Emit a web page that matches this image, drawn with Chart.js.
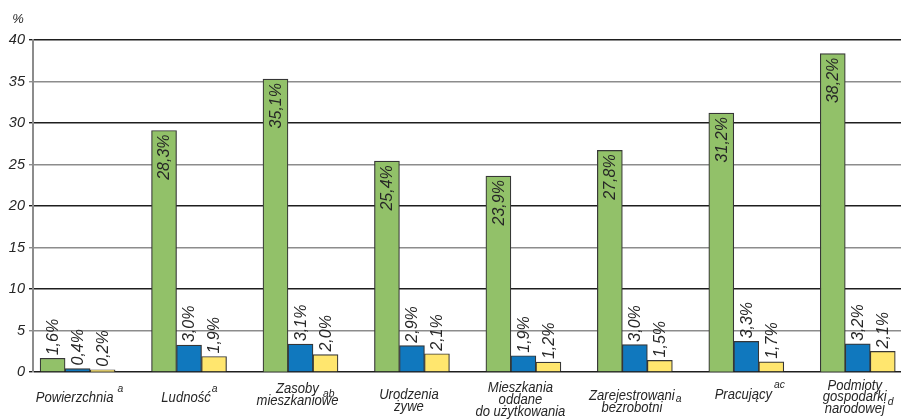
<!DOCTYPE html>
<html>
<head>
<meta charset="utf-8">
<script src="https://cdn.jsdelivr.net/npm/chart.js@4"></script>
<style>
  html, body { margin: 0; padding: 0; background: #ffffff; overflow: hidden; }
  canvas { display: block; }
</style>
</head>
<body>
<canvas id="c" width="901" height="419"></canvas>
<script>
// ---- data ----
const categories = [
  ["Powierzchnia"],
  ["Ludność"],
  ["Zasoby", "mieszkaniowe"],
  ["Urodzenia", "żywe"],
  ["Mieszkania", "oddane", "do użytkowania"],
  ["Zarejestrowani", "bezrobotni"],
  ["Pracujący"],
  ["Podmioty", "gospodarki", "narodowej"]
];
const categoryNotes = ["a", "a", "ab", "", "", "a", "ac", "d"];

const greenValues  = [1.65, 29.1, 35.3, 25.4, 23.6, 26.7, 31.2, 38.35];
const blueValues   = [0.42, 3.24, 3.36, 3.17, 1.96, 3.29, 3.69, 3.4];
const yellowValues = [0.27, 1.87, 2.1, 2.2, 1.2, 1.4, 1.23, 2.48];

const greenLabels  = ["1,6%", "28,3%", "35,1%", "25,4%", "23,9%", "27,8%", "31,2%", "38,2%"];
const blueLabels   = ["0,4%", "3,0%", "3,1%", "2,9%", "1,9%", "3,0%", "3,3%", "3,2%"];
const yellowLabels = ["0,2%", "1,9%", "2,0%", "2,1%", "1,2%", "1,5%", "1,7%", "2,1%"];

const yMin = 0, yMax = 40, yStep = 5;
const yUnit = "%";

// ---- styles ----
const FONT = "'Liberation Sans', Arial, Helvetica, sans-serif";
const TEXT = "#262626";
// baseline offsets (below chart bottom) of each label line, and note placement
const xLabelLayout = {
  baselines: [[30], [30], [20.5, 32.5], [26.5, 38.5], [19.5, 31.5, 43.5], [28, 39.5], [26.5], [18, 29, 40.5]],
  notes: [
    { line: 0, dx: 4, dy: 20 }, { line: 0, dx: 1, dy: 20 }, { line: 0, dx: 4, dy: 24.5 },
    null, null,
    { line: 0, dx: 1, dy: 29.5 }, { line: 0, dx: 2, dy: 16 }, { line: 1, dx: 1, dy: 33 }
  ],
  shift: -3,
  scaleX: 0.9
};

const toPoints = arr => arr.map((v, i) => ({ x: i, y: v }));

const barLabelPlugin = {
  id: 'barLabels',
  afterDatasetsDraw(chart) {
    const ctx = chart.ctx;
    const sets = [greenLabels, blueLabels, yellowLabels];
    ctx.save();
    ctx.font = "italic 16px " + FONT;
    ctx.fillStyle = TEXT;
    ctx.textBaseline = 'middle';
    chart.data.datasets.forEach((ds, di) => {
      const meta = chart.getDatasetMeta(di);
      meta.data.forEach((el, i) => {
        const val = ds.data[i].y;
        const txt = sets[di][i];
        const inside = di === 0 && val > 10;
        ctx.save();
        if (inside) {
          ctx.translate(el.x + 1, el.y + 4);
          ctx.rotate(-Math.PI / 2);
          ctx.textAlign = 'right';
        } else {
          ctx.translate(el.x + 1, el.y - 3);
          ctx.rotate(-Math.PI / 2);
          ctx.textAlign = 'left';
        }
        ctx.fillText(txt, 0, 0);
        ctx.restore();
      });
    });
    ctx.restore();
  }
};

const xLabelPlugin = {
  id: 'xLabels',
  afterDraw(chart) {
    const ctx = chart.ctx;
    const xs = chart.scales.x;
    const bottom = chart.chartArea.bottom;
    ctx.save();
    ctx.fillStyle = TEXT;
    ctx.textBaseline = 'alphabetic';
    categories.forEach((lines, i) => {
      const cx = xs.getPixelForValue(i) + xLabelLayout.shift;
      const bl = xLabelLayout.baselines[i];
      const widths = [];
      ctx.font = "italic 14.5px " + FONT;
      lines.forEach((ln, k) => {
        const w = ctx.measureText(ln).width * xLabelLayout.scaleX;
        widths.push(w);
        ctx.save();
        ctx.translate(cx, bottom + bl[k]);
        ctx.scale(xLabelLayout.scaleX, 1);
        ctx.textAlign = 'center';
        ctx.fillText(ln, 0, 0);
        ctx.restore();
      });
      const note = categoryNotes[i];
      const np = xLabelLayout.notes[i];
      if (note && np) {
        ctx.save();
        ctx.font = "italic 11.5px " + FONT;
        ctx.translate(cx + widths[np.line] / 2 + np.dx, bottom + np.dy);
        ctx.scale(xLabelLayout.scaleX, 1);
        ctx.textAlign = 'left';
        ctx.fillText(note, 0, 0);
        ctx.restore();
      }
    });
    // unit label above the y axis
    ctx.font = "italic 13px " + FONT;
    ctx.textAlign = 'center';
    ctx.textBaseline = 'middle';
    ctx.fillText(yUnit, chart.scales.y.left + 18, chart.chartArea.top - 21);
    ctx.restore();
  }
};

const common = { borderColor: '#363636', borderWidth: 1.2, barThickness: 25 };

new Chart(document.getElementById('c'), {
  type: 'bar',
  data: {
    datasets: [
      Object.assign({ data: toPoints(greenValues),  backgroundColor: '#92c169' }, common),
      Object.assign({ data: toPoints(blueValues),   backgroundColor: '#1078be' }, common),
      Object.assign({ data: toPoints(yellowValues), backgroundColor: '#ffe66e' }, common)
    ]
  },
  options: {
    responsive: false,
    animation: false,
    devicePixelRatio: 1,
    layout: { padding: { top: 40, bottom: 47, left: 0, right: 0 } },
    plugins: { legend: { display: false }, tooltip: { enabled: false }, title: { display: false } },
    scales: {
      x: {
        type: 'linear',
        display: false,
        offset: false,
        min: -0.4,
        max: 7.388,
        grid: { display: false, offset: false }
      },
      y: {
        min: yMin,
        max: yMax,
        ticks: {
          stepSize: yStep,
          color: TEXT,
          padding: 4,
          font: { family: FONT, size: 14.5, style: 'italic' }
        },
        grid: {
          color: c => (c.tick && c.tick.value % 10 === 0) ? '#1e1e1e' : '#8c8c8c',
          lineWidth: 1.4,
          tickLength: 4,
          drawTicks: true
        },
        border: { color: '#8c8c8c', width: 2 },
        afterFit(s) { s.width = 33; }
      }
    }
  },
  plugins: [barLabelPlugin, xLabelPlugin]
});
</script>
</body>
</html>
